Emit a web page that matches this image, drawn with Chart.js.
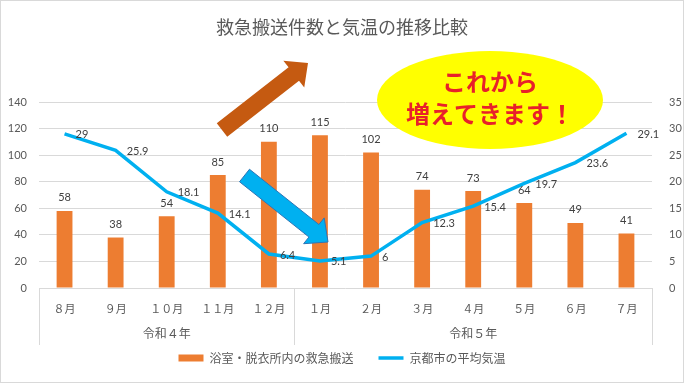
<!DOCTYPE html>
<html><head><meta charset="utf-8">
<script src="https://cdn.jsdelivr.net/npm/chart.js@4/dist/chart.umd.min.js"></script>
<style>html,body{margin:0;padding:0;background:#fff;}canvas{display:block;}</style>
</head><body>
<canvas id="c" width="684" height="383"></canvas>
<script>
// ---- data ----
const chartTitle = '救急搬送件数と気温の推移比較';
const months = ['８月','９月','１０月','１１月','１２月','１月','２月','３月','４月','５月','６月','７月'];
const yearGroups = ['令和４年','令和５年'];
const groupSizes = [5, 7];
const transportCounts = [58, 38, 54, 85, 110, 115, 102, 74, 73, 64, 49, 41];
const avgTemps = [29, 25.9, 18.1, 14.1, 6.4, 5.1, 6, 12.3, 15.4, 19.7, 23.6, 29.1];
const seriesNames = ['浴室・脱衣所内の救急搬送', '京都市の平均気温'];
const calloutLines = ['これから', '増えてきます！'];

const CJK = "'Noto Sans CJK JP', sans-serif";
const NUM = "Lato, 'Noto Sans CJK JP', sans-serif";

const bgBorder = {
  id: 'bgBorder',
  beforeDraw(chart) {
    const c = chart.ctx; c.save(); c.fillStyle = '#fff'; c.fillRect(0, 0, chart.width, chart.height); c.restore();
  },
  afterDraw(chart) {
    const c = chart.ctx; c.save(); c.strokeStyle = '#d9d9d9'; c.lineWidth = 1;
    c.strokeRect(0.5, 0.5, chart.width - 1, chart.height - 1); c.restore();
  }
};

const groupAxis = {
  id: 'groupAxis',
  afterDraw(chart) {
    const xs = chart.scales.x, c = chart.ctx, n = months.length;
    const w = (xs.right - xs.left) / n;
    const top = chart.chartArea.bottom, bottom = top + 57;
    const bounds = [0]; let s = 0;
    groupSizes.forEach(g => { s += g; bounds.push(s); });
    c.save(); c.strokeStyle = '#d9d9d9'; c.lineWidth = 1;
    bounds.forEach(b => {
      const px = Math.round(xs.left + b * w) + 0.5;
      c.beginPath(); c.moveTo(px, top); c.lineTo(px, bottom); c.stroke();
    });
    c.fillStyle = '#595959'; c.font = '12px ' + CJK; c.textAlign = 'center'; c.textBaseline = 'middle';
    yearGroups.forEach((g, i) => {
      const cx = xs.left + (bounds[i] + bounds[i + 1]) / 2 * w;
      c.fillText(g, cx, top + 45);
    });
    c.restore();
  }
};

const dataLabels = {
  id: 'dataLabels',
  afterDatasetsDraw(chart) {
    const c = chart.ctx; c.save();
    c.font = '11px ' + NUM; c.fillStyle = '#404040'; c.textBaseline = 'middle';
    chart.getDatasetMeta(0).data.forEach((el, i) => {
      c.textAlign = 'center'; c.fillText(String(transportCounts[i]), el.x, el.y - 13);
    });
    chart.getDatasetMeta(1).data.forEach((el, i) => {
      c.textAlign = 'left'; c.fillText(String(avgTemps[i]), el.x + 11, el.y + 1);
    });
    c.restore();
  }
};

function blockArrow(c, x1, y1, x2, y2, sw, hw, hl, fill, stroke) {
  const dx = x2 - x1, dy = y2 - y1, L = Math.hypot(dx, dy), ux = dx / L, uy = dy / L, px = -uy, py = ux;
  const bx = x2 - ux * hl, by = y2 - uy * hl;
  const pts = [[x1 + px * sw / 2, y1 + py * sw / 2], [bx + px * sw / 2, by + py * sw / 2], [bx + px * hw / 2, by + py * hw / 2],
    [x2, y2], [bx - px * hw / 2, by - py * hw / 2], [bx - px * sw / 2, by - py * sw / 2], [x1 - px * sw / 2, y1 - py * sw / 2]];
  c.beginPath(); c.moveTo(pts[0][0], pts[0][1]);
  for (let i = 1; i < pts.length; i++) c.lineTo(pts[i][0], pts[i][1]);
  c.closePath(); c.fillStyle = fill; c.fill();
  if (stroke) { c.strokeStyle = stroke; c.lineWidth = 1; c.stroke(); }
}

const callouts = {
  id: 'callouts',
  afterDraw(chart) {
    const c = chart.ctx; c.save();
    blockArrow(c, 222, 130, 308, 63, 17, 34, 18, '#c55a11');
    blockArrow(c, 244.5, 175.5, 328, 242, 16, 33, 18, '#00b0f0', '#2e75b6');
    c.beginPath(); c.ellipse(490, 100, 113, 49, 0, 0, Math.PI * 2); c.fillStyle = '#ffff00'; c.fill();
    c.fillStyle = '#e8202a'; c.font = 'bold 24px ' + CJK; c.textAlign = 'center'; c.textBaseline = 'middle';
    c.fillText(calloutLines[0], 490, 82);
    c.fillText(calloutLines[1], 490, 114);
    c.restore();
  }
};

new Chart(document.getElementById('c'), {
  data: {
    labels: months,
    datasets: [
      { type: 'bar', label: seriesNames[0], data: transportCounts, backgroundColor: '#ed7d31', borderWidth: 0,
        yAxisID: 'y', order: 1, categoryPercentage: 1, barPercentage: 0.31 },
      { type: 'line', label: seriesNames[1], data: avgTemps, borderColor: '#00b0f0', backgroundColor: '#00b0f0',
        borderWidth: 3.5, pointRadius: 0, tension: 0, yAxisID: 'y1', order: 0 }
    ]
  },
  options: {
    responsive: false, animation: false, devicePixelRatio: 1,
    layout: { padding: { left: 0, right: 0, top: 0, bottom: 9 } },
    plugins: {
      title: { display: true, text: chartTitle, color: '#595959', font: { size: 18, family: CJK, weight: 'normal' },
        padding: { top: 16, bottom: 64.4 } },
      legend: {
        position: 'bottom',
        labels: {
          color: '#595959', font: { size: 12, family: CJK }, usePointStyle: true, pointStyleWidth: 25, boxHeight: 7, padding: 25,
          sort: (a, b) => a.datasetIndex - b.datasetIndex,
          generateLabels(chart) {
            const items = Chart.defaults.plugins.legend.labels.generateLabels(chart);
            items.forEach(it => {
              if (it.datasetIndex === 0) { it.pointStyle = 'rect'; it.lineWidth = 0; }
              else { it.pointStyle = 'line'; it.lineWidth = 3.5; it.strokeStyle = '#00b0f0'; }
            });
            return items;
          }
        }
      },
      tooltip: { enabled: false }
    },
    scales: {
      x: { type: 'category', offset: true, grid: { display: false }, border: { display: false },
        ticks: { color: '#595959', font: { size: 11, family: CJK }, padding: 6, maxRotation: 0, autoSkip: false },
        afterFit(s) { s.height = 39; } },
      y: { position: 'left', min: 0, max: 140, grid: { color: '#d9d9d9', drawTicks: false }, border: { display: false },
        ticks: { stepSize: 20, color: '#595959', font: { size: 11, family: NUM }, padding: 12 },
        afterFit(s) { s.width = 39; } },
      y1: { position: 'right', min: 0, max: 35, grid: { display: false }, border: { display: false },
        ticks: { stepSize: 5, color: '#595959', font: { size: 11, family: NUM }, padding: 9 },
        afterFit(s) { s.width = 32; } }
    }
  },
  plugins: [bgBorder, groupAxis, dataLabels, callouts]
});
</script>
</body></html>
